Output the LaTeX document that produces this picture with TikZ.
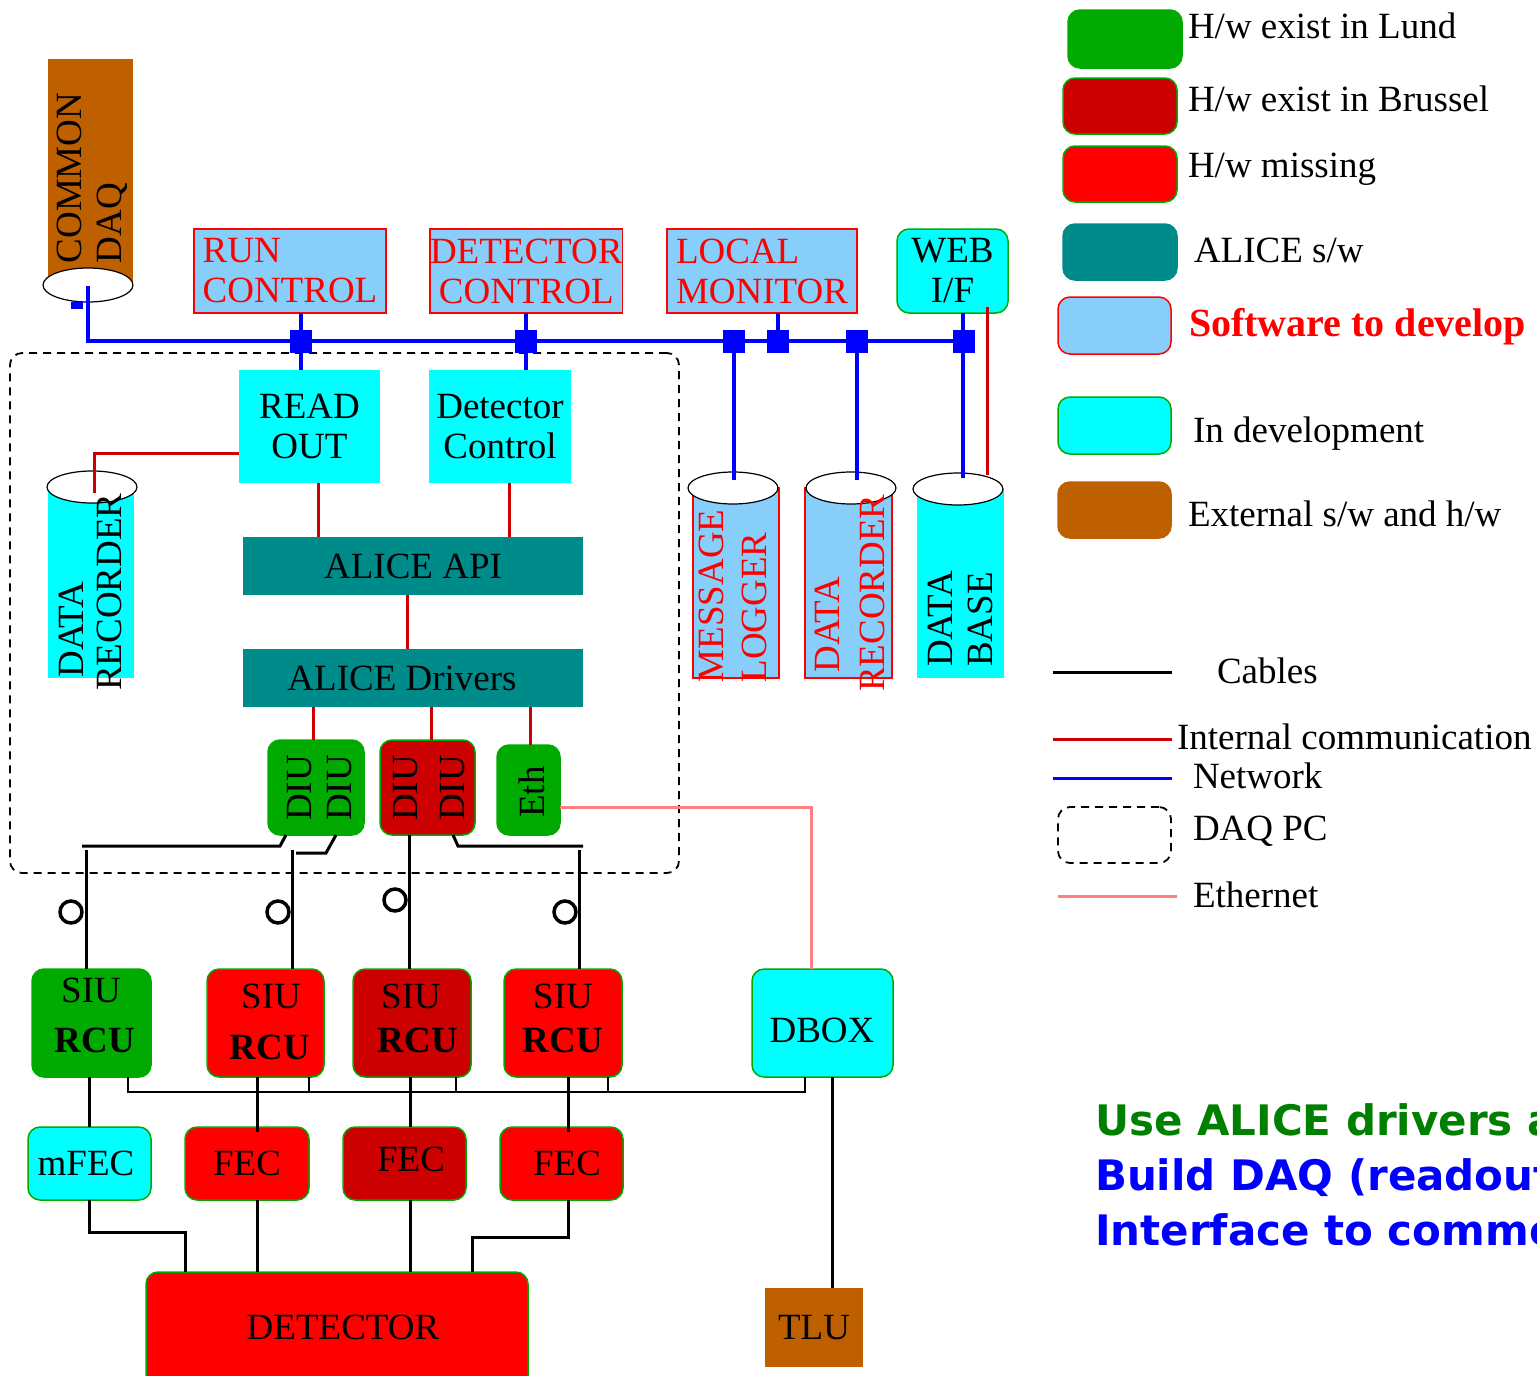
\documentclass[tikz,border=0pt]{standalone}
\usepackage{fontspec}
\setmainfont{Liberation Serif}
\newfontfamily\djv{DejaVu Sans}
\usetikzlibrary{calc}
\definecolor{hwgreen}{RGB}{0,170,0}
\definecolor{hwdred}{RGB}{204,0,0}
\definecolor{hwred}{RGB}{255,0,0}
\definecolor{alteal}{RGB}{0,139,139}
\definecolor{swblue}{RGB}{135,206,250}
\definecolor{devcyan}{RGB}{0,255,255}
\definecolor{extbrown}{RGB}{191,96,0}
\definecolor{ethpink}{RGB}{255,128,128}
\definecolor{netblue}{RGB}{0,0,255}
\definecolor{intred}{RGB}{204,0,0}
\definecolor{txtgreen}{RGB}{0,128,0}
\begin{document}
\begin{tikzpicture}[x=1pt,y=-1pt,
  font=\fontsize{37}{40}\selectfont,
  every node/.style={inner sep=0pt,outer sep=0pt},
  blk/.style={anchor=north west, align=center},
  sz/.style 2 args={minimum width=#1pt, minimum height=#2pt},
  swb/.style={blk, fill=swblue, draw=hwred, line width=1.5pt, text=hwred},
  hwb/.style={blk, rounded corners=12pt, draw=hwgreen, line width=1.5pt},
  apib/.style={blk, fill=alteal},
  jn/.style={fill=netblue, minimum width=22pt, minimum height=23pt},
  netl/.style={draw=netblue, line width=4pt},
  intc/.style={draw=intred, line width=3pt},
  cab/.style={draw=black, line width=3pt},
  thinc/.style={draw=black, line width=1.5pt},
  ethl/.style={draw=ethpink, line width=3pt},
  rot/.style={rotate=90, align=left},
  lgt/.style={anchor=base west},
  daqs/.style={draw, dash pattern=on 8pt off 6pt, line width=1.8pt, rounded corners=12pt},
  ring/.style={circle, draw, line width=3.5pt, minimum size=22pt},
  cylcap/.style={fill=white, draw=black, line width=1.2pt},
  bigtxt/.style={lgt, font=\djv\bfseries\fontsize{42}{55}\selectfont}
]
\useasboundingbox (0,0) rectangle (1537,1376);

% ---------- COMMON DAQ ----------
\node[blk, sz={85}{226}, fill=extbrown] (cdaq) at (48,59) {};
\draw[cylcap] (88,285) ellipse (45pt and 17pt);
\node[rot] (cdaqt) at (92,178) {COMMON\\DAQ};
\node[fill=netblue, sz={12}{7}] (cdaqsq) at (77,305) {};

% ---------- DAQ PC ----------
\node[blk, sz={669}{520}, daqs] (daqpc) at (10,353) {};

% ---------- top software boxes ----------
\node[swb, sz={192}{84}, align=left] (run) at (194,229) {RUN\\CONTROL};
\node[swb, sz={190}{84}] (detc) at (430,229) {DETECTOR\\CONTROL};
\node[swb, sz={190}{84}, align=left] (lmon) at (667,229) {LOCAL\\MONITOR};
\node[hwb, fill=devcyan, sz={111}{84}] (web) at (897,229) {WEB\\I/F};

% ---------- readout part ----------
\node[blk, fill=devcyan, sz={141}{113}] (readout) at (239,370) {READ\\OUT};
\node[blk, fill=devcyan, sz={142}{113}] (dctl) at (429,370) {Detector\\Control};
\node[apib, sz={340}{58}] (api) at (243,537) {ALICE API};
\node[apib, sz={340}{58}] (drv) at (243,649) {};
\node (drvt) at (402,678) {ALICE Drivers};

% left data recorder
\node[blk, fill=devcyan, sz={86}{191}] (drec1) at (48,487) {};
\draw[cylcap] (92,487) ellipse (45pt and 16pt);
\node[rot] (drec1t) at (90,592) {\hspace*{13pt}DATA\\[-2pt]RECORDER};

% right cylinders
\node[blk, fill=swblue, draw=hwred, line width=1.5pt, sz={86}{190}] (mlog) at (693,488) {};
\draw[cylcap] (733,488) ellipse (45pt and 16pt);
\node[rot, text=hwred] (mlogt) at (733,596) {MESSAGE\\[3pt]LOGGER};

\node[blk, fill=swblue, draw=hwred, line width=1.5pt, sz={87}{190}] (drec2) at (805,488) {};
\draw[cylcap] (851,488) ellipse (45pt and 16pt);
\node[rot, text=hwred] (drec2t) at (850,593) {\hspace*{19pt}DATA\\[5pt]RECORDER};

\node[blk, fill=devcyan, sz={87}{189}] (dbase) at (917,489) {};
\draw[cylcap] (958,489) ellipse (45pt and 16pt);
\node[rot] (dbaset) at (960,619) {DATA\\BASE};

% ---------- DIU / Eth ----------
\node[hwb, fill=hwgreen, sz={96}{95}] (diu1) at (268,740) {};
\node[rot] (diu1t) at (320,788) {DIU\\DIU};
\node[hwb, fill=hwdred, sz={95}{95}] (diu2) at (380,740) {};
\node[rot] (diu2t) at (429,788) {DIU\\[7pt]DIU};
\node[hwb, fill=hwgreen, sz={63}{90}] (eth) at (497,745) {};
\node[rot] (etht) at (532,792) {Eth};

% ---------- SIU / RCU ----------
\node[hwb, fill=hwgreen, sz={119}{108}] (siu1) at (32,969) {};
\node (siu1a) at (91,990) {SIU};
\node (siu1b) at (95,1040) {\bfseries RCU};
\node[hwb, fill=hwred, sz={117}{108}] (siu2) at (207,969) {};
\node (siu2a) at (271,996) {SIU};
\node (siu2b) at (270,1047) {\bfseries RCU};
\node[hwb, fill=hwdred, sz={118}{108}] (siu3) at (353,969) {};
\node (siu3a) at (411,996) {SIU};
\node (siu3b) at (418,1040) {\bfseries RCU};
\node[hwb, fill=hwred, sz={118}{108}] (siu4) at (504,969) {};
\node (siu4a) at (563,996) {SIU};
\node (siu4b) at (563,1040) {\bfseries RCU};
\node[hwb, fill=devcyan, sz={141}{108}] (dbox) at (752,969) {};
\node (dboxt) at (822,1030) {DBOX};

% ---------- FEC ----------
\node[hwb, fill=devcyan, sz={123}{73}] (mfec) at (28,1127) {};
\node (mfect) at (86,1163) {mFEC};
\node[hwb, fill=hwred, sz={124}{73}] (fec2) at (185,1127) {};
\node (fec2t) at (247,1163) {FEC};
\node[hwb, fill=hwdred, sz={123}{73}] (fec3) at (343,1127) {};
\node (fec3t) at (411,1159) {FEC};
\node[hwb, fill=hwred, sz={123}{73}] (fec4) at (500,1127) {};
\node (fec4t) at (567,1163) {FEC};

\node[hwb, fill=hwred, sz={382}{125}] (det) at (146,1272) {};
\node (dett) at (343,1327) {DETECTOR};
\node[blk, fill=extbrown, sz={98}{79}] (tlu) at (765,1288) {TLU};

% ---------- network ----------
\coordinate (cdaqp) at (88,286);
\node[jn] (j1) at (301,341) {};
\node[jn] (j2) at (526,341) {};
\node[jn] (j3) at (734,341) {};
\node[jn] (j4) at (778,341) {};
\node[jn] (j5) at (857,341) {};
\node[jn] (j6) at (964,341) {};
\draw[netl] (cdaqp) |- (j6.center);
\draw[netl] (j1 |- run.south) -- (j1 |- readout.north);
\draw[netl] (j2 |- detc.south) -- (j2 |- dctl.north);
\draw[netl] (j4 |- lmon.south) -- (j4.center);
\coordinate (mlt) at (734,480);
\draw[netl] (j3.center) -- (mlt);
\coordinate (drt2) at (857,480);
\draw[netl] (j5.center) -- (drt2);
\coordinate (dbt) at (963,478);
\draw[netl] (web.south -| dbt) -- (dbt);

% ---------- internal communication ----------
\coordinate (ro0) at ($(readout.west)+(0,27)$);
\coordinate (drt) at (94,493);
\draw[intc] (ro0) -| (drt);
\coordinate (r1) at (318,483);
\draw[intc] (r1) -- (r1 |- api.north);
\coordinate (r2) at (509,483);
\draw[intc] (r2) -- (r2 |- api.north);
\coordinate (r3) at (407,595);
\draw[intc] (r3) -- (r3 |- drv.north);
\coordinate (r4) at (313,707);
\draw[intc] (r4) -- (r4 |- diu1.north);
\coordinate (r5) at (431,707);
\draw[intc] (r5) -- (r5 |- diu2.north);
\coordinate (r6) at (530,707);
\draw[intc] (r6) -- (r6 |- eth.north);
\coordinate (r7) at (987,307);
\coordinate (r8) at (987,475);
\draw[intc] (r7) -- (r8);

% ---------- ethernet ----------
\coordinate (e1) at (560,807);
\coordinate (e2) at (811,969);
\draw[ethl] (e1) -| (e2);

% ---------- cables DIU -> SIU ----------
\coordinate (c1a) at (286,835); \coordinate (c1b) at (280,846); \coordinate (c1c) at (82,846);
\draw[cab] (c1a) -- (c1b) -- (c1c);
\coordinate (v1) at (86,850);
\draw[cab] (v1) -- (v1 |- siu1.north);
\coordinate (c2a) at (336,835); \coordinate (c2b) at (326,853); \coordinate (c2c) at (296,853);
\draw[cab] (c2a) -- (c2b) -- (c2c);
\coordinate (v2) at (292,850);
\draw[cab] (v2) -- (v2 |- siu2.north);
\coordinate (v3) at (409,835);
\draw[cab] (v3) -- (v3 |- siu3.north);
\coordinate (c4a) at (453,835); \coordinate (c4b) at (458,846); \coordinate (c4c) at (583,846);
\draw[cab] (c4a) -- (c4b) -- (c4c);
\coordinate (v4) at (579,850);
\draw[cab] (v4) -- (v4 |- siu4.north);
\node[ring] (o1) at (71,912) {};
\node[ring] (o2) at (278,912) {};
\node[ring] (o3) at (395,900) {};
\node[ring] (o4) at (565,912) {};

% ---------- SIU -> FEC, thin bus ----------
\coordinate (s1) at (89,1077);
\draw[cab] (s1) -- (s1 |- mfec.north);
\coordinate (s2) at (257,1077);
\draw[cab] (s2) -- ($(s2 |- fec2.north)+(0,5)$);
\coordinate (s3) at (410,1077);
\draw[cab] (s3) -- (s3 |- fec3.north);
\coordinate (s4) at (568,1077);
\draw[cab] (s4) -- ($(s4 |- fec4.north)+(0,5)$);
\coordinate (s5) at (832,1077);
\draw[cab] (s5) -- (s5 |- tlu.north);

\coordinate (b1) at (128,1077); \coordinate (b2) at (309,1077);
\coordinate (b3) at (456,1077); \coordinate (b4) at (608,1077);
\coordinate (b5) at (805,1077); \coordinate (bb) at (805,1092);
\draw[thinc] (b1) |- (bb) -- (b5);
\draw[thinc] (b2) -- (b2 |- bb);
\draw[thinc] (b3) -- (b3 |- bb);
\draw[thinc] (b4) -- (b4 |- bb);

% ---------- FEC -> DETECTOR ----------
\coordinate (f1) at (89,1200); \coordinate (f1b) at (185,1232);
\draw[cab] (f1) |- (f1b) -- (f1b |- det.north);
\coordinate (f2) at (257,1200);
\draw[cab] (f2) -- (f2 |- det.north);
\coordinate (f3) at (410,1200);
\draw[cab] (f3) -- (f3 |- det.north);
\coordinate (f4) at (568,1200); \coordinate (f4b) at (472,1237);
\draw[cab] (f4) |- (f4b) -- (f4b |- det.north);

% ---------- legend ----------
\node[hwb, fill=hwgreen, sz={114}{58}] (lg1) at (1068,10) {};
\node[lgt] (lg1t) at (1188,38) {H/w exist in Lund};
\node[hwb, fill=hwdred, sz={114}{56}] (lg2) at (1063,78) {};
\node[lgt] (lg2t) at (1188,111) {H/w exist in Brussel};
\node[hwb, fill=hwred, sz={114}{56}] (lg3) at (1063,146) {};
\node[lgt] (lg3t) at (1188,177) {H/w missing};
\node[hwb, fill=alteal, draw=alteal, sz={114}{56}] (lg4) at (1063,224) {};
\node[lgt] (lg4t) at (1194,262) {ALICE s/w};
\node[hwb, fill=swblue, draw=hwred, sz={113}{57}] (lg5) at (1058,297) {};
\node[lgt, text=hwred, font=\fontsize{40}{44}\selectfont\bfseries] (lg5t) at (1189,336) {Software to develop};
\node[hwb, fill=devcyan, sz={113}{57}] (lg6) at (1058,397) {};
\node[lgt] (lg6t) at (1193,442) {In development};
\node[hwb, fill=extbrown, draw=extbrown, sz={113}{56}] (lg7) at (1058,482) {};
\node[lgt] (lg7t) at (1188,526) {External s/w and h/w};

\coordinate (la1) at (1053,672); \coordinate (la2) at (1172,672);
\draw[cab] (la1) -- (la2);
\node[lgt] (la3) at (1217,683) {Cables};
\coordinate (lb1) at (1053,739); \coordinate (lb2) at (1172,739);
\draw[intc] (lb1) -- (lb2);
\node[lgt] (lb3) at (1177,749) {Internal communication};
\coordinate (lc1) at (1053,778); \coordinate (lc2) at (1172,778);
\draw[netl, line width=3pt] (lc1) -- (lc2);
\node[lgt] (lc3) at (1193,788) {Network};
\node[blk, daqs, sz={113}{56}] (ld1) at (1058,807) {};
\node[lgt] (ld3) at (1193,840) {DAQ PC};
\coordinate (le1) at (1058,896); \coordinate (le2) at (1177,896);
\draw[ethl] (le1) -- (le2);
\node[lgt] (le3) at (1193,907) {Ethernet};

% ---------- bottom-right text ----------
\begin{scope}
\clip (0,0) rectangle (1537,1376);
\node[bigtxt, text=txtgreen] (n1) at (1095,1135) {Use ALICE drivers a};
\node[bigtxt, text=netblue] (n2) at (1095,1190) {Build DAQ (readout};
\node[bigtxt, text=netblue] (n3) at (1095,1245) {Interface to commo};
\end{scope}
\end{tikzpicture}
\end{document}
